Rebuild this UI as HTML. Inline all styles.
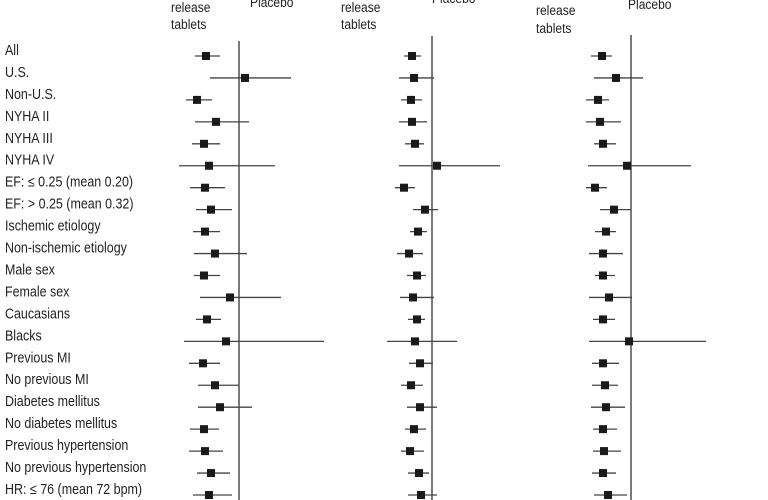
<!DOCTYPE html>
<html><head><meta charset="utf-8"><style>
html,body{margin:0;padding:0;background:#fff;width:768px;height:500px;overflow:hidden}
svg text{font-family:"Liberation Sans Narrow","Liberation Sans",sans-serif;fill:#222}
</style></head><body>
<svg id="chart" width="768" height="500" viewBox="0 0 768 500" xmlns="http://www.w3.org/2000/svg">
<g id="labels"></g>
<g id="headers">
<text x="171" y="12" font-size="14" transform="scale(0.82,1)"></text>
</g>
<g id="panels"></g>
</svg>
<script>
const categories = ["All","U.S.","Non-U.S.","NYHA II","NYHA III","NYHA IV","EF: \u2264 0.25 (mean 0.20)","EF: > 0.25 (mean 0.32)","Ischemic etiology","Non-ischemic etiology","Male sex","Female sex","Caucasians","Blacks","Previous MI","No previous MI","Diabetes mellitus","No diabetes mellitus","Previous hypertension","No previous hypertension","HR: \u2264 76 (mean 72 bpm)"];
const p1Point = [0.67,1.06,0.58,0.77,0.65,0.70,0.66,0.72,0.66,0.76,0.65,0.91,0.68,0.87,0.64,0.76,0.81,0.65,0.66,0.72,0.70];
const p1Low   = [0.56,0.71,0.47,0.56,0.53,0.40,0.51,0.57,0.54,0.55,0.55,0.61,0.57,0.45,0.50,0.59,0.59,0.51,0.50,0.58,0.54];
const p1High  = [0.81,1.52,0.73,1.10,0.81,1.36,0.86,0.93,0.81,1.08,0.81,1.42,0.82,1.85,0.81,1.00,1.13,0.80,0.84,0.91,0.93];
const p2Point = [0.80,0.82,0.79,0.80,0.83,1.05,0.72,0.93,0.86,0.77,0.85,0.81,0.85,0.83,0.88,0.79,0.88,0.82,0.78,0.87,0.89];
const p2Low   = [0.72,0.67,0.69,0.67,0.73,0.67,0.63,0.81,0.78,0.65,0.75,0.68,0.76,0.55,0.77,0.69,0.75,0.73,0.69,0.76,0.76];
const p2High  = [0.89,1.02,0.90,0.95,0.92,1.68,0.83,1.06,0.95,0.91,0.94,1.02,0.93,1.25,1.01,0.91,1.05,0.94,0.92,0.97,1.05];
const p3Point = [0.71,0.85,0.67,0.69,0.72,0.96,0.64,0.83,0.75,0.72,0.72,0.78,0.72,0.98,0.72,0.74,0.75,0.72,0.73,0.72,0.77];
const p3Low   = [0.60,0.63,0.55,0.55,0.63,0.57,0.55,0.69,0.64,0.58,0.64,0.58,0.62,0.58,0.61,0.61,0.60,0.62,0.62,0.61,0.63];
const p3High  = [0.81,1.12,0.78,0.90,0.85,1.60,0.76,1.00,0.85,0.92,0.84,1.01,0.84,1.75,0.88,0.87,0.94,0.86,0.90,0.85,0.96];

const NS="http://www.w3.org/2000/svg";
const svg=document.getElementById('chart');
const labelsG=document.getElementById('labels');
const panelsG=document.getElementById('panels');
const headersG=document.getElementById('headers');
headersG.innerHTML='';
function yRow(i){return 56+i*21.95;}
function mk(tag,attrs,parent){const e=document.createElementNS(NS,tag);for(const k in attrs)e.setAttribute(k,attrs[k]);parent.appendChild(e);return e;}

categories.forEach((c,i)=>{
  const t=mk('text',{x:5,y:yRow(i)-1,'font-size':14.5},labelsG);
  
  
  t.setAttribute('transform','translate(5,0) scale(0.86,1) translate(-5,0)');
  t.textContent=c;
});

function hdr(x,y,txt,name){
  const t=mk('text',{x:x,y:y,'font-size':14,transform:`translate(${x},0) scale(0.86,1) translate(${-x},0)`},headersG);
  
  
  t.textContent=txt;
}
hdr(171,12,'release','header-release-1');hdr(171,29,'tablets','header-tablets-1');hdr(250,7,'Placebo','header-placebo-1');
hdr(341,12,'release','header-release-2');hdr(341,29,'tablets','header-tablets-2');hdr(432,3,'Placebo','header-placebo-2');
hdr(536,15,'release','header-release-3');hdr(536,33,'tablets','header-tablets-3');hdr(628,9,'Placebo','header-placebo-3');

const panels=[
  {ref:239,top:41,pt:p1Point,lo:p1Low,hi:p1High},
  {ref:432,top:36,pt:p2Point,lo:p2Low,hi:p2High},
  {ref:631,top:35,pt:p3Point,lo:p3Low,hi:p3High}
];
panels.forEach((p,pi)=>{
  const g=mk('g',{},panelsG);
  
  
  const xs=v=>p.ref+(v-1)*100;
  const rl=mk('line',{x1:p.ref,x2:p.ref,y1:p.top,y2:500,stroke:'#333','stroke-width':1.3},g);
  
  
  p.pt.forEach((v,i)=>{
    const y=yRow(i);
    const w=mk('line',{x1:xs(p.lo[i]),x2:xs(p.hi[i]),y1:y,y2:y,stroke:'#444','stroke-width':1.3},g);
    
    
    const s=8;
    const r=mk('rect',{x:xs(v)-s/2,y:y-s/2,width:s,height:s,fill:'#1a1a1a'},g);
    
    
  });
});
</script>
</body></html>
